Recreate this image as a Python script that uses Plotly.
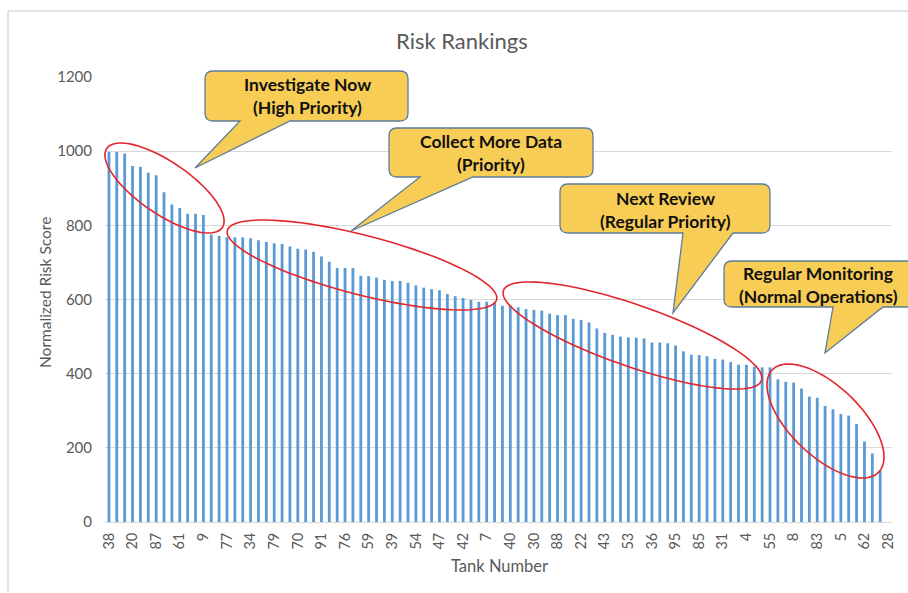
import numpy as np
import plotly.graph_objects as go

# ---------------- data ----------------
rank_positions = list(range(100))
risk_scores = [
    998, 998, 994, 960, 958, 942, 935, 889, 856, 847,
    831, 831, 828, 775, 771, 768, 768, 768, 765, 760,
    755, 752, 750, 743, 737, 735, 729, 716, 702, 685,
    685, 685, 664, 663, 659, 653, 650, 650, 645, 638,
    632, 628, 625, 615, 609, 604, 599, 594, 594, 592,
    583, 583, 579, 574, 572, 570, 562, 558, 558, 548,
    545, 538, 522, 510, 505, 500, 498, 497, 495, 484,
    484, 482, 476, 460, 451, 450, 447, 440, 438, 431,
    424, 424, 419, 417, 417, 385, 378, 376, 360, 338,
    335, 313, 304, 291, 287, 264, 217, 185, 138, None,
]
tick_positions = list(range(0, 100, 3))
tick_labels = ["38", "20", "87", "61", "9", "77", "34", "79", "70", "91",
               "76", "59", "39", "54", "47", "42", "7", "40", "30", "88",
               "22", "43", "53", "36", "95", "85", "31", "4", "55", "8",
               "83", "5", "62", "28"]
y_ticks = [0, 200, 400, 600, 800, 1000, 1200]

callout_lines = [
    ("Investigate Now", "(High Priority)"),
    ("Collect More Data", "(Priority)"),
    ("Next Review", "(Regular Priority)"),
    ("Regular Monitoring", "(Normal Operations)"),
]

# ---------------- layout geometry (pixels) ----------------
W, H = 908, 593
L, R, T, B = 105, 892, 77, 522
FONT = "Lato"
TXT = "#595959"


def px(x):
    return (x - L) / (R - L)


def py(y):
    return (B - y) / (B - T)


fig = go.Figure()
fig.add_trace(go.Bar(
    x=rank_positions, y=risk_scores,
    marker=dict(color="#5B9BD5", line=dict(width=0)),
    width=0.36,
    hoverinfo="x+y",
))

shapes = []
annotations = []

# outer chart border (left and top visible)
shapes.append(dict(type="line", xref="paper", yref="paper",
                   x0=px(8), y0=py(11), x1=px(8), y1=py(600),
                   line=dict(color="#D9D9D9", width=1.5)))
shapes.append(dict(type="line", xref="paper", yref="paper",
                   x0=px(8), y0=py(11), x1=px(920), y1=py(11),
                   line=dict(color="#D9D9D9", width=1.5)))

# red ellipses
ellipses = [
    (164.5, 188, 70, 26, 34.4),
    (362, 265, 139, 29.7, 14.4),
    (632.5, 335.5, 136.7, 30.8, 19.2),
    (825.5, 421, 73.8, 35, 43.8),
]
t = np.linspace(0, 2 * np.pi, 97)
for cx, cy, a, b, th in ellipses:
    th = np.radians(th)
    xs = cx + a * np.cos(th) * np.cos(t) - b * np.sin(th) * np.sin(t)
    ys = cy + a * np.sin(th) * np.cos(t) + b * np.cos(th) * np.sin(t)
    path = "M " + " L ".join(f"{px(x):.5f},{py(y):.5f}" for x, y in zip(xs, ys)) + " Z"
    shapes.append(dict(type="path", xref="paper", yref="paper", path=path,
                       line=dict(color="#E3262B", width=1.6),
                       fillcolor="rgba(0,0,0,0)"))

# callouts: box (x0,y0,x1,y1), pointer base (bx0,bx1), tip (tx,ty), text center x, text y's
callouts = [
    ((205, 71, 408, 121), (240, 290), (195, 168), 307, (85, 107)),
    ((389, 128, 593, 177), (420, 473), (351, 231), 491, (141, 164)),
    ((560, 184, 770, 233), (683, 733), (673, 313), 665, (198, 221)),
    ((724, 261, 914, 307), (833, 883), (825, 353), 818, (273, 296)),
]
r = 8
for (x0, y0, x1, y1), (bx0, bx1), (tx, ty), tcx, (ty1, ty2) in callouts:
    pts = [
        ("M", x0 + r, y0), ("L", x1 - r, y0), ("Q", x1, y0, x1, y0 + r),
        ("L", x1, y1 - r), ("Q", x1, y1, x1 - r, y1),
        ("L", bx1, y1), ("L", tx, ty), ("L", bx0, y1),
        ("L", x0 + r, y1), ("Q", x0, y1, x0, y1 - r),
        ("L", x0, y0 + r), ("Q", x0, y0, x0 + r, y0),
    ]
    parts = []
    for p in pts:
        cmd = p[0]
        coords = p[1:]
        cs = " ".join(f"{px(coords[i]):.5f},{py(coords[i + 1]):.5f}" for i in range(0, len(coords), 2))
        parts.append(f"{cmd} {cs}")
    path = " ".join(parts) + " Z"
    shapes.append(dict(type="path", xref="paper", yref="paper", path=path,
                       line=dict(color="#5B7C9C", width=1.3),
                       fillcolor="#F8CD55"))

for (box, base, tip, tcx, tys), lines in zip(callouts, callout_lines):
    for yy, line in zip(tys, lines):
        annotations.append(dict(xref="paper", yref="paper", x=px(tcx), y=py(yy),
                                text=f"<b>{line}</b>", showarrow=False,
                                xanchor="center", yanchor="middle",
                                font=dict(family=FONT, size=17.5, color="#111111")))

# titles
annotations.append(dict(xref="paper", yref="paper", x=px(462), y=py(41),
                        text="Risk Rankings", showarrow=False,
                        xanchor="center", yanchor="middle",
                        font=dict(family=FONT, size=22, color=TXT)))
annotations.append(dict(xref="paper", yref="paper", x=px(45), y=py(293),
                        text="Normalized Risk Score", showarrow=False, textangle=-90,
                        xanchor="center", yanchor="middle",
                        font=dict(family=FONT, size=15.5, color=TXT)))
annotations.append(dict(xref="paper", yref="paper", x=px(499), y=py(566),
                        text="Tank Number", showarrow=False,
                        xanchor="center", yanchor="middle",
                        font=dict(family=FONT, size=16.5, color=TXT)))

fig.update_layout(
    width=W, height=H,
    margin=dict(l=L, r=W - R, t=T, b=H - B, autoexpand=False),
    paper_bgcolor="white", plot_bgcolor="white",
    showlegend=False,
    bargap=0.6,
    shapes=shapes,
    annotations=annotations,
    font=dict(family=FONT, color=TXT),
    xaxis=dict(
        range=[-0.5, 99.5],
        tickmode="array", tickvals=tick_positions, ticktext=tick_labels,
        tickangle=-90, tickfont=dict(family=FONT, size=14.5, color=TXT),
        showgrid=False, zeroline=False,
        showline=True, linecolor="#D9D9D9", linewidth=1,
        ticks="", ticklabelstandoff=4, automargin=False,
    ),
    yaxis=dict(
        range=[0, 1200], tickmode="array", tickvals=y_ticks,
        tickfont=dict(family=FONT, size=15, color=TXT),
        showgrid=True, gridcolor="#D9D9D9", gridwidth=1,
        zeroline=False, showline=False,
        ticks="", ticklabelstandoff=12, automargin=False,
    ),
)

fig.write_html("out.html", config={"displayModeBar": False},
               post_script="document.body.style.margin='0';document.body.style.overflow='hidden';")
